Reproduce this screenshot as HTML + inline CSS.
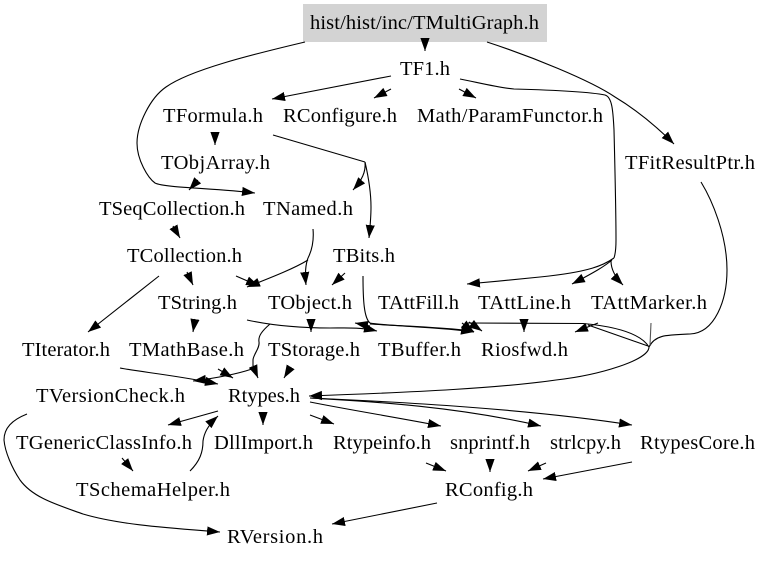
<!DOCTYPE html>
<html>
<head>
<meta charset="utf-8">
<style>
html,body{margin:0;padding:0;background:#fff;}
svg{display:block;}
text{font-family:"Liberation Serif","Times New Roman",serif;font-size:20.5px;fill:#000;}
path{fill:none;stroke:#000;stroke-width:1.1;}
path.a{marker-end:url(#h);}
</style>
</head>
<body>
<svg width="768" height="561" viewBox="0 0 768 561" xmlns="http://www.w3.org/2000/svg">
<defs>
<marker id="h" markerUnits="userSpaceOnUse" markerWidth="13" markerHeight="10" viewBox="0 0 13 10" refX="13" refY="5" orient="auto">
<polygon points="0,0.4 13,5 0,9.6" fill="#000"/>
</marker>
</defs>
<rect x="303" y="4" width="244" height="38" fill="#d3d3d3"/>

<!-- top edges -->
<path class="a" d="M425,39 L425,51"/>
<path class="a" d="M305,42 C250,55 190,70 166,87 C150,98 137,125 137,143 C137,160 148,178 155,183 C165,188 215,188 255,193"/>
<path class="a" d="M391,76 L272,99"/>
<path class="a" d="M391,89 L374,98"/>
<path class="a" d="M459,89 L476,98"/>
<path d="M460,79 C480,83 500,88 514,89 C550,90 590,92 605,95 C612,97 613,110 614,130 C615,170 616,220 616,240 C616,250 615,255 614,258"/>
<path class="a" d="M614,258 C604,265 590,272 540,277 C520,279 490,282 467,284"/>
<path class="a" d="M612,260 C605,266 595,272 572,284"/>
<path class="a" d="M611,261 C611,270 616,278 623,285"/>
<path class="a" d="M487,42 C530,56 590,80 615,97 C640,112 660,130 674,144"/>
<path class="a" d="M215,132 L215,145"/>
<path d="M273,135 L365,162"/>
<path class="a" d="M365,162 C366,172 362,180 353,190"/>
<path class="a" d="M365,162 C368,175 371,190 371,207 C371,218 370,228 369,238"/>
<path class="a" d="M198,180 L189,190"/>
<path class="a" d="M173,226 L180,238"/>
<path d="M313,229 C314,240 312,250 308,258"/>
<path class="a" d="M308,258 C305,266 305,275 306,285"/>
<path class="a" d="M308,260 C295,268 275,276 247,287"/>
<path class="a" d="M236,276 L259,286"/>
<path class="a" d="M187,272 L193,285"/>
<path class="a" d="M159,276 L88,332"/>
<path class="a" d="M345,273 L332,285"/>

<!-- middle concentrated edges -->
<path class="a" d="M363,276 C363,300 364,318 370,323 C385,326 440,327 474,332"/>
<path d="M370,324 C400,326 440,327 473,331"/>
<path class="a" d="M247,320 C270,325 300,328 330,328 C345,328 360,327 377,331"/>
<path class="a" d="M370,326 L355,323"/>
<path class="a" d="M462,323 L474,332"/>
<path class="a" d="M469,322 L482,331"/>
<path class="a" d="M311,320 L311,332"/>
<path d="M270,324 C262,331 258,336 259,342 C260,348 253,355 253,360 C253,364 253,367 253,370"/>
<path class="a" d="M253,366 L258,378"/>
<path class="a" d="M252,369 C240,373 225,377 193,381"/>
<path class="a" d="M218,369 L233,378"/>
<path class="a" d="M120,368 C140,372 175,375 218,384"/>
<path class="a" d="M195,319 L193,332"/>
<path class="a" d="M290,368 L284,378"/>

<!-- right loop -->
<path class="a" d="M701,182 C712,200 727,235 727,270 C727,300 715,333 690,334 C665,335 655,335 649,347 C649,360 600,375 556,380 C500,388 420,392 309,396"/>
<path d="M649,347 C640,332 610,326 583,323.5 L468,323"/>
<path d="M588,325 L648,346"/>
<path d="M651,323 L650,345" style="stroke:#555"/>
<path class="a" d="M598,323 L575,332"/>
<path class="a" d="M524,320 L524,332"/>

<!-- Rtypes outgoing -->
<path class="a" d="M218,411 L168,425"/>
<path class="a" d="M263,413 L263,425"/>
<path class="a" d="M310,415 L334,424"/>
<path class="a" d="M310,402 C350,410 400,418 441,426"/>
<path class="a" d="M310,398 C360,401 450,405 541,426"/>
<path class="a" d="M310,398 C400,402 530,409 632,425"/>
<path class="a" d="M122,458 L133,471"/>
<path class="a" d="M190,471 C200,461 203,452 203,441 C204,434 207,426 218,416"/>
<path class="a" d="M27,414 C12,420 4,428 4,440 C5,452 12,468 20,480 C33,498 58,505 83,514 C120,525 170,528 220,532"/>
<path class="a" d="M437,503 L332,524"/>
<path class="a" d="M426,463 L446,471"/>
<path class="a" d="M490,460 L490,472"/>
<path class="a" d="M546,463 L528,471"/>
<path class="a" d="M632,462 L543,479"/>

<!-- labels -->
<text x="310" y="29" textLength="229" lengthAdjust="spacing">hist/hist/inc/TMultiGraph.h</text>
<text x="400" y="75" textLength="50" lengthAdjust="spacing">TF1.h</text>
<text x="163" y="122" textLength="100" lengthAdjust="spacing">TFormula.h</text>
<text x="283" y="122" textLength="114" lengthAdjust="spacing">RConfigure.h</text>
<text x="417" y="122" textLength="186" lengthAdjust="spacing">Math/ParamFunctor.h</text>
<text x="161" y="169" textLength="109" lengthAdjust="spacing">TObjArray.h</text>
<text x="625" y="169" textLength="130" lengthAdjust="spacing">TFitResultPtr.h</text>
<text x="99" y="215" textLength="146" lengthAdjust="spacing">TSeqCollection.h</text>
<text x="263" y="215" textLength="90" lengthAdjust="spacing">TNamed.h</text>
<text x="127" y="262" textLength="115" lengthAdjust="spacing">TCollection.h</text>
<text x="333" y="262" textLength="62" lengthAdjust="spacing">TBits.h</text>
<text x="158" y="309" textLength="79" lengthAdjust="spacing">TString.h</text>
<text x="268" y="309" textLength="84" lengthAdjust="spacing">TObject.h</text>
<text x="378" y="309" textLength="81" lengthAdjust="spacing">TAttFill.h</text>
<text x="478" y="309" textLength="93" lengthAdjust="spacing">TAttLine.h</text>
<text x="591" y="309" textLength="116" lengthAdjust="spacing">TAttMarker.h</text>
<text x="22" y="356" textLength="88" lengthAdjust="spacing">TIterator.h</text>
<text x="129" y="356" textLength="115" lengthAdjust="spacing">TMathBase.h</text>
<text x="268" y="356" textLength="92" lengthAdjust="spacing">TStorage.h</text>
<text x="378" y="356" textLength="83" lengthAdjust="spacing">TBuffer.h</text>
<text x="481" y="356" textLength="87" lengthAdjust="spacing">Riosfwd.h</text>
<text x="36" y="402" textLength="149" lengthAdjust="spacing">TVersionCheck.h</text>
<text x="228" y="402" textLength="72" lengthAdjust="spacing">Rtypes.h</text>
<text x="16" y="449" textLength="176" lengthAdjust="spacing">TGenericClassInfo.h</text>
<text x="214" y="449" textLength="99" lengthAdjust="spacing">DllImport.h</text>
<text x="333" y="449" textLength="98" lengthAdjust="spacing">Rtypeinfo.h</text>
<text x="450" y="449" textLength="80" lengthAdjust="spacing">snprintf.h</text>
<text x="550" y="449" textLength="71" lengthAdjust="spacing">strlcpy.h</text>
<text x="640" y="449" textLength="115" lengthAdjust="spacing">RtypesCore.h</text>
<text x="76" y="496" textLength="154" lengthAdjust="spacing">TSchemaHelper.h</text>
<text x="445" y="496" textLength="88" lengthAdjust="spacing">RConfig.h</text>
<text x="227" y="543" textLength="96" lengthAdjust="spacing">RVersion.h</text>
</svg>
</body>
</html>
